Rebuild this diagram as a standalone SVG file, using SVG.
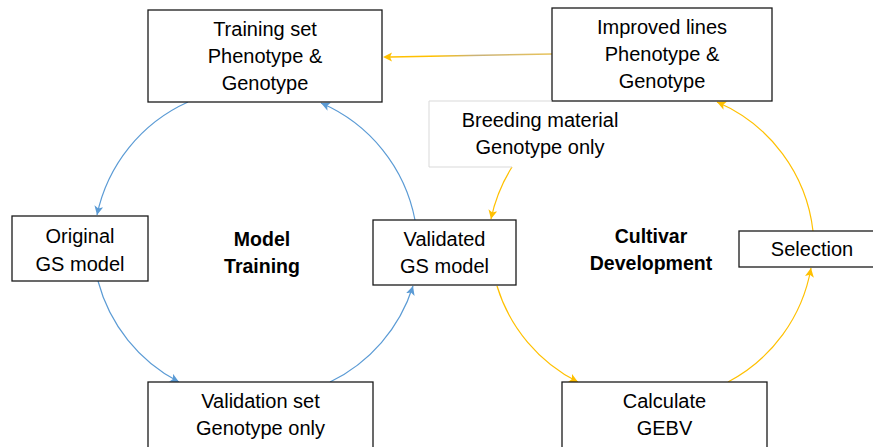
<svg xmlns="http://www.w3.org/2000/svg" width="873" height="447" viewBox="0 0 873 447">
  <style>
    .box { fill: #ffffff; stroke: #1a1a1a; stroke-width: 1.3; }
    .lbl { font-family: "Liberation Sans", Arial, sans-serif; font-size: 20px; fill: #000; text-anchor: middle; }
    .title { font-family: "Liberation Sans", Arial, sans-serif; font-size: 19.5px; font-weight: bold; fill: #000; text-anchor: middle; }
    .blue { fill: none; stroke: #5B9BD5; stroke-width: 1.2; marker-end: url(#arrowBlue); }
    .gold { fill: none; stroke: #FFC000; stroke-width: 1.2; marker-end: url(#arrowGold); }
  </style>
  <defs>
    <marker id="arrowBlue" viewBox="0 0 10 10" refX="10" refY="5" markerWidth="9" markerHeight="9" markerUnits="userSpaceOnUse" orient="auto">
      <path d="M0,0 L10,5 L0,10 L2.5,5 z" fill="#5B9BD5"/>
    </marker>
    <marker id="arrowGold" viewBox="0 0 10 10" refX="10" refY="5" markerWidth="9" markerHeight="9" markerUnits="userSpaceOnUse" orient="auto">
      <path d="M0,0 L10,5 L0,10 L2.5,5 z" fill="#FFC000"/>
    </marker>
    <linearGradient id="feedLine" x1="552" y1="0" x2="383" y2="0" gradientUnits="userSpaceOnUse">
      <stop offset="0" stop-color="#E8C35A"/>
      <stop offset="0.45" stop-color="#C9B27A"/>
      <stop offset="0.7" stop-color="#FFC000"/>
      <stop offset="1" stop-color="#FFC000"/>
    </linearGradient>
  </defs>

  <!-- connectors -->
  <g id="connectors">
    <!-- model training cycle -->
    <path class="blue" d="M188,102 A160,160 0 0 0 97,215"/>
    <path class="blue" d="M98,281 A160,160 0 0 0 179,382"/>
    <path class="blue" d="M330,382 A160,160 0 0 0 413,286"/>
    <path class="blue" d="M415,220 A160,160 0 0 0 321,103"/>
    <!-- cultivar development cycle -->
    <path class="gold" d="M512,167 A160,160 0 0 0 491,219"/>
    <path class="gold" d="M497,286 A160,160 0 0 0 578,382"/>
    <path class="gold" d="M728,382 A160,160 0 0 0 811,268"/>
    <path class="gold" d="M813,231 A160,160 0 0 0 717,102"/>
    <!-- improved lines feed back into training set -->
    <path d="M552,54 L390,57" fill="none" stroke="url(#feedLine)" stroke-width="1.4"/>
    <path d="M383,57 L392,52.5 L390,57 L392,61.5 z" fill="#FFC000"/>
  </g>

  <g id="training-set">
    <rect class="box" x="148" y="10" width="234" height="92"/>
    <text class="lbl" x="265" y="36">Training set</text>
    <text class="lbl" x="265" y="63">Phenotype &amp;</text>
    <text class="lbl" x="265" y="90">Genotype</text>
  </g>

  <g id="improved-lines">
    <rect class="box" x="552" y="8" width="220" height="93"/>
    <text class="lbl" x="662" y="34">Improved lines</text>
    <text class="lbl" x="662" y="61">Phenotype &amp;</text>
    <text class="lbl" x="662" y="88">Genotype</text>
  </g>

  <g id="breeding-material">
    <path d="M552,101 L429,101 L429,167 L512,167" fill="none" stroke="#D9D9D9" stroke-width="1"/>
    <text class="lbl" x="540" y="127">Breeding material</text>
    <text class="lbl" x="540" y="154">Genotype only</text>
  </g>

  <g id="original-gs-model">
    <rect class="box" x="12" y="216" width="136" height="65"/>
    <text class="lbl" x="80" y="243">Original</text>
    <text class="lbl" x="80" y="271">GS model</text>
  </g>

  <g id="model-training">
    <text class="title" x="262" y="246">Model</text>
    <text class="title" x="262" y="273">Training</text>
  </g>

  <g id="validated-gs-model">
    <rect class="box" x="373" y="220" width="143" height="65"/>
    <text class="lbl" x="444.5" y="246">Validated</text>
    <text class="lbl" x="444.5" y="273">GS model</text>
  </g>

  <g id="cultivar-development">
    <text class="title" x="651" y="243">Cultivar</text>
    <text class="title" x="651" y="270">Development</text>
  </g>

  <g id="selection">
    <rect class="box" x="739" y="231" width="140" height="36"/>
    <text class="lbl" x="812" y="256">Selection</text>
  </g>

  <g id="validation-set">
    <rect class="box" x="148" y="382" width="225" height="70"/>
    <text class="lbl" x="260.5" y="408">Validation set</text>
    <text class="lbl" x="260.5" y="435">Genotype only</text>
  </g>

  <g id="calculate-gebv">
    <rect class="box" x="562" y="382" width="205" height="70"/>
    <text class="lbl" x="664.5" y="408">Calculate</text>
    <text class="lbl" x="664.5" y="435">GEBV</text>
  </g>
</svg>
